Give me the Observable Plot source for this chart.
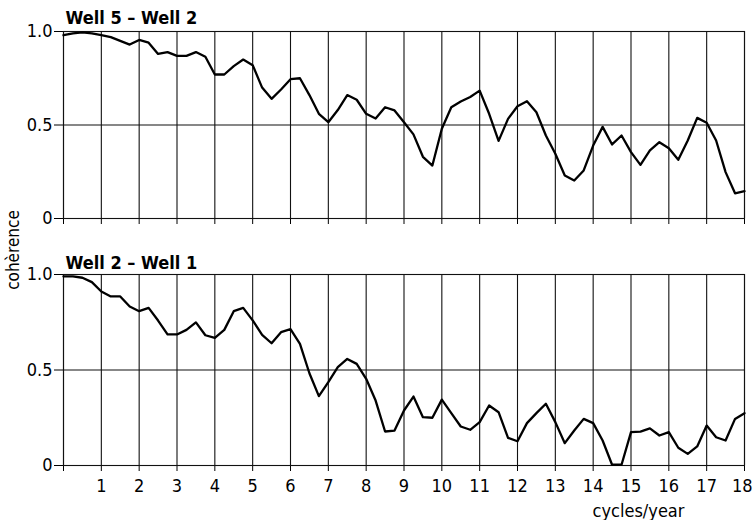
<!DOCTYPE html>
<html>
<head>
<meta charset="utf-8">
<script src="https://cdn.jsdelivr.net/npm/d3@7"></script>
<script src="https://cdn.jsdelivr.net/npm/@observablehq/plot@0.6"></script>
<style>
  body { margin: 0; background: #fff; }
  #chart { position: relative; width: 753px; height: 520px; font-family: "DejaVu Sans Condensed", "DejaVu Sans", sans-serif; }
  #chart svg { display: block; }
  #ylabel {
    position: absolute; left: 13px; top: 250px;
    transform: translate(-50%, -50%) rotate(-90deg);
    font-size: 17px; white-space: nowrap; color: #000;
  }
</style>
</head>
<body>
<div id="chart"><div id="ylabel">cohèrence</div></div>
<script>
// Frequency axis: coherence estimated every 0.25 cycles/year from 0 to 18
const freq = d3.range(0, 18.001, 0.25);

// Coherence, Well 5 – Well 2
const well5well2 = [
  0.98, 0.99, 0.995, 0.99, 0.98, 0.97, 0.95, 0.93, 0.955, 0.94, 0.88, 0.89, 0.87,
  0.87, 0.89, 0.865, 0.77, 0.77, 0.815, 0.85, 0.82, 0.70, 0.64, 0.69, 0.745, 0.75,
  0.66, 0.56, 0.515, 0.58, 0.66, 0.635, 0.56, 0.535, 0.595, 0.578, 0.515, 0.45, 0.33,
  0.283, 0.48, 0.595, 0.626, 0.65, 0.684, 0.56, 0.415, 0.533, 0.60, 0.627, 0.568,
  0.444, 0.346, 0.23, 0.203, 0.257, 0.39, 0.49, 0.396, 0.444, 0.355, 0.287, 0.364,
  0.408, 0.376, 0.314, 0.417, 0.538, 0.512, 0.417, 0.248, 0.135, 0.146
];

// Coherence, Well 2 – Well 1
const well2well1 = [
  0.99, 0.99, 0.983, 0.96, 0.911, 0.885, 0.885, 0.832, 0.808, 0.825, 0.759, 0.686,
  0.686, 0.71, 0.749, 0.682, 0.668, 0.71, 0.808, 0.825, 0.76, 0.684, 0.64, 0.698,
  0.714, 0.637, 0.483, 0.363, 0.436, 0.515, 0.558, 0.532, 0.454, 0.34, 0.178, 0.183,
  0.288, 0.361, 0.253, 0.25, 0.345, 0.274, 0.204, 0.187, 0.227, 0.314, 0.279, 0.145,
  0.127, 0.222, 0.274, 0.323, 0.227, 0.117, 0.183, 0.244, 0.222, 0.131, 0.004, 0.004,
  0.175, 0.177, 0.194, 0.157, 0.175, 0.093, 0.061, 0.10, 0.209, 0.148, 0.131, 0.244,
  0.274
];

const panelTitles = ["Well 5 – Well 2", "Well 2 – Well 1"];
const xTicks = d3.range(0, 19);
const xTickLabels = d3.range(1, 19);
const yTicks = [0, 0.5, 1];
const xLabel = "cycles/year";
const fontStack = "'DejaVu Sans Condensed', 'DejaVu Sans', sans-serif";

function panel({values, title, titleDy, height, marginTop, marginBottom, showXLabels}) {
  const data = freq.map((f, i) => ({f, c: values[i]}));
  const marks = [
    Plot.ruleX(xTicks, {stroke: "#111", strokeWidth: 1.1}),
    Plot.ruleY(yTicks, {stroke: "#111", strokeWidth: 1.1}),
    Plot.frame({stroke: "#111", strokeWidth: 1.1}),
    Plot.line(data, {x: "f", y: "c", stroke: "#000", strokeWidth: 2.3, strokeLinejoin: "round"}),
    Plot.text([title], {
      frameAnchor: "top-left", dx: 2, dy: titleDy, lineAnchor: "bottom",
      fontSize: 18, fontWeight: 600, fill: "#000"
    })
  ];
  if (showXLabels) {
    // tick labels under the frame; the last one is kept inside the page edge
    const last = xTickLabels[xTickLabels.length - 1];
    marks.push(
      Plot.text(xTickLabels.filter(d => d !== last), {
        x: d => d, frameAnchor: "bottom", dy: 21, lineAnchor: "middle",
        fontSize: 18, fill: "#000"
      }),
      Plot.text([last], {
        x: d => d, frameAnchor: "bottom", dy: 21, dx: 8, lineAnchor: "middle", textAnchor: "end",
        fontSize: 18, fill: "#000"
      }),
      Plot.text([xLabel], {
        frameAnchor: "bottom-right", dx: -106, dy: 46, lineAnchor: "middle", textAnchor: "middle",
        fontSize: 18, fontWeight: 500, fill: "#000"
      })
    );
  }
  return Plot.plot({
    width: 753,
    height,
    marginLeft: 63,
    marginRight: 9,
    marginTop,
    marginBottom,
    style: {fontFamily: fontStack, fontSize: "18px", color: "#000", background: "#fff", overflow: "visible"},
    x: {
      domain: [0, 18], ticks: xTicks, tickSize: 6, tickPadding: 4,
      tickFormat: () => "", label: null
    },
    y: {
      domain: [0, 1], ticks: yTicks, tickSize: 9, tickPadding: 2,
      tickFormat: d => (d === 0 ? "0" : d.toFixed(1)), label: null
    },
    marks
  });
}

const chart = document.getElementById("chart");
chart.appendChild(panel({
  values: well5well2, title: panelTitles[0], titleDy: -8,
  height: 240, marginTop: 31, marginBottom: 22, showXLabels: false
}));
chart.appendChild(panel({
  values: well2well1, title: panelTitles[1], titleDy: -6,
  height: 280, marginTop: 34, marginBottom: 55, showXLabels: true
}));
</script>
</body>
</html>
